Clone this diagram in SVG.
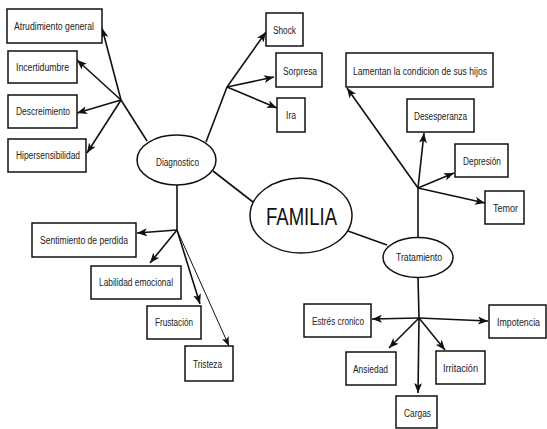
<svg xmlns="http://www.w3.org/2000/svg" width="547" height="429" viewBox="0 0 547 429">
<defs>
<marker id="ah" markerUnits="userSpaceOnUse" markerWidth="11" markerHeight="9" refX="10" refY="4" orient="auto">
<path d="M0,0 L10,4 L0,8 L2.5,4 z" fill="#111"/>
</marker>
<marker id="ahs" markerUnits="userSpaceOnUse" markerWidth="10" markerHeight="8" refX="9" refY="3.5" orient="auto">
<path d="M0,0 L9,3.5 L0,7 L2,3.5 z" fill="#111"/>
</marker>
</defs>
<style>
rect{fill:#fff;stroke:#111;stroke-width:1.5}
ellipse{fill:#fff;stroke:#111;stroke-width:1.5}
text{font-family:"Liberation Sans",Arial,sans-serif;font-size:10px;fill:#222;text-anchor:middle}
.big{font-size:24px;fill:#111}
#connectors line{stroke:#111;stroke-width:1.6}
#connectors line.a{marker-end:url(#ah)}
#connectors line.thin{stroke-width:1;marker-end:url(#ahs)}
</style>
<rect x="0" y="0" width="547" height="429" fill="#fff" style="stroke:none"/>
<g id="connectors">
<line x1="147" y1="141" x2="121" y2="100"/>
<line class="a" x1="121" y1="100" x2="102" y2="28"/>
<line class="a" x1="121" y1="100" x2="77" y2="60"/>
<line class="a" x1="121" y1="100" x2="77" y2="113"/>
<line class="a" x1="121" y1="100" x2="87" y2="153"/>
<line x1="206" y1="142" x2="227" y2="87"/>
<line class="a" x1="227" y1="87" x2="266" y2="32"/>
<line class="a" x1="227" y1="87" x2="274" y2="77"/>
<line class="a" x1="227" y1="87" x2="277" y2="108"/>
<line x1="213" y1="171" x2="253" y2="202"/>
<line x1="177" y1="185" x2="177" y2="230"/>
<line class="a" x1="177" y1="230" x2="137" y2="233"/>
<line class="a" x1="177" y1="230" x2="150" y2="263"/>
<line class="a" x1="177" y1="230" x2="200" y2="304"/>
<line class="thin" x1="177" y1="230" x2="229" y2="346"/>
<line x1="348" y1="231" x2="387" y2="245"/>
<line x1="418" y1="238" x2="418" y2="188"/>
<line class="a" x1="418" y1="188" x2="347" y2="88"/>
<line class="a" x1="418" y1="188" x2="424" y2="133"/>
<line class="a" x1="418" y1="188" x2="454" y2="173"/>
<line class="a" x1="418" y1="188" x2="485" y2="203"/>
<line x1="418" y1="277" x2="419" y2="318"/>
<line class="a" x1="419" y1="318" x2="372" y2="319"/>
<line class="a" x1="419" y1="318" x2="488" y2="321"/>
<line class="a" x1="419" y1="318" x2="389" y2="348"/>
<line class="a" x1="419" y1="318" x2="445" y2="350"/>
<line class="a" x1="419" y1="318" x2="418" y2="393"/>
</g>
<g id="familia"><ellipse cx="301" cy="215.5" rx="51" ry="37.5"/><text class="big" x="301.5" y="225" textLength="71" lengthAdjust="spacingAndGlyphs">FAMILIA</text></g>
<g id="diagnostico"><ellipse cx="176.5" cy="160" rx="39.5" ry="25"/><text x="177.5" y="166" textLength="43" lengthAdjust="spacingAndGlyphs">Diagnostico</text></g>
<g id="tratamiento"><ellipse cx="418" cy="257.5" rx="35" ry="20"/><text x="419" y="261" textLength="46" lengthAdjust="spacingAndGlyphs">Tratamiento</text></g>
<g id="atrudimiento"><rect x="7" y="9" width="95" height="34"/><text x="54" y="30" textLength="80" lengthAdjust="spacingAndGlyphs">Atrudimiento general</text></g>
<g id="incertidumbre"><rect x="8" y="51" width="69" height="32"/><text x="42.5" y="71" textLength="53" lengthAdjust="spacingAndGlyphs">Incertidumbre</text></g>
<g id="descreimiento"><rect x="8" y="95" width="69" height="33"/><text x="43" y="115" textLength="54" lengthAdjust="spacingAndGlyphs">Descreimiento</text></g>
<g id="hipersensibilidad"><rect x="8" y="139" width="78" height="33"/><text x="48" y="159" textLength="64" lengthAdjust="spacingAndGlyphs">Hipersensibilidad</text></g>
<g id="shock"><rect x="266" y="13" width="37" height="33"/><text x="284.5" y="34" textLength="23" lengthAdjust="spacingAndGlyphs">Shock</text></g>
<g id="sorpresa"><rect x="276" y="53" width="46" height="34"/><text x="300" y="75" textLength="34" lengthAdjust="spacingAndGlyphs">Sorpresa</text></g>
<g id="ira"><rect x="277" y="98" width="28" height="34"/><text x="291" y="119" textLength="10" lengthAdjust="spacingAndGlyphs">Ira</text></g>
<g id="sentimiento"><rect x="32" y="223" width="104" height="34"/><text x="84" y="244" textLength="88" lengthAdjust="spacingAndGlyphs">Sentimiento de perdida</text></g>
<g id="labilidad"><rect x="91" y="266" width="90" height="33"/><text x="136" y="286" textLength="74" lengthAdjust="spacingAndGlyphs">Labilidad emocional</text></g>
<g id="frustacion"><rect x="147" y="306" width="54" height="33"/><text x="174" y="326" textLength="38" lengthAdjust="spacingAndGlyphs">Frustación</text></g>
<g id="tristeza"><rect x="185" y="346" width="48" height="35"/><text x="207.5" y="368" textLength="29" lengthAdjust="spacingAndGlyphs">Tristeza</text></g>
<g id="lamentan"><rect x="346" y="53" width="147" height="34"/><text x="420" y="75" textLength="134" lengthAdjust="spacingAndGlyphs">Lamentan la condicion de sus hijos</text></g>
<g id="desesperanza"><rect x="407" y="99" width="67" height="33"/><text x="440.5" y="120" textLength="53" lengthAdjust="spacingAndGlyphs">Desesperanza</text></g>
<g id="depresion"><rect x="455" y="144" width="53" height="33"/><text x="482" y="165" textLength="38" lengthAdjust="spacingAndGlyphs">Depresión</text></g>
<g id="temor"><rect x="485" y="191" width="39" height="33"/><text x="505.5" y="212" textLength="25" lengthAdjust="spacingAndGlyphs">Temor</text></g>
<g id="estres"><rect x="304" y="304" width="67" height="33"/><text x="338" y="325" textLength="52" lengthAdjust="spacingAndGlyphs">Estrés cronico</text></g>
<g id="impotencia"><rect x="489" y="305" width="57" height="33"/><text x="518.5" y="326" textLength="43" lengthAdjust="spacingAndGlyphs">Impotencia</text></g>
<g id="ansiedad"><rect x="346" y="352" width="50" height="33"/><text x="370.5" y="373" textLength="35" lengthAdjust="spacingAndGlyphs">Ansiedad</text></g>
<g id="irritacion"><rect x="436" y="351" width="49" height="33"/><text x="460.5" y="372" textLength="35" lengthAdjust="spacingAndGlyphs">Irritación</text></g>
<g id="cargas"><rect x="396" y="396" width="41" height="32"/><text x="417.5" y="417" textLength="27" lengthAdjust="spacingAndGlyphs">Cargas</text></g>
</svg>
